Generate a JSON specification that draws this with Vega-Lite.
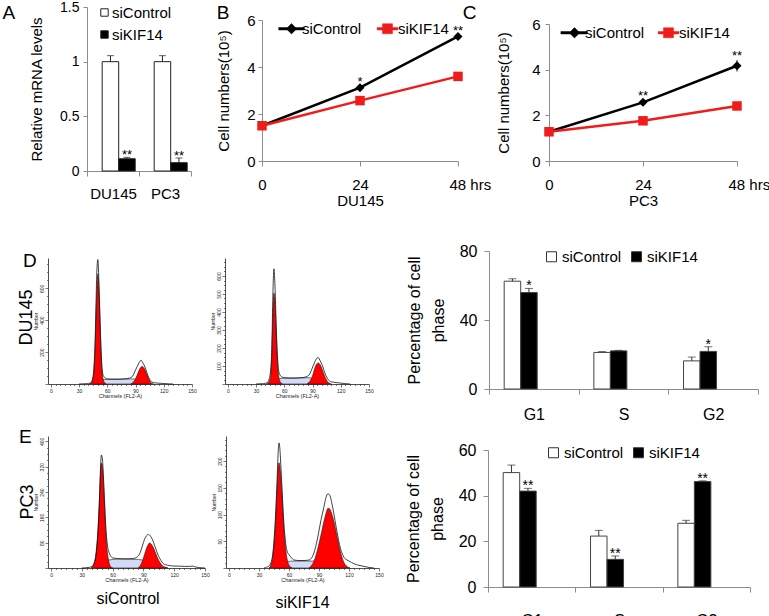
{
"$schema": "https://vega.github.io/schema/vega-lite/v6.json",
"background": "white",
"padding": {"left": 2, "top": 0, "right": 0, "bottom": 0},
"config": {
  "font": "Liberation Sans",
  "view": {"stroke": null},
  "axis": {"grid": false, "domainColor": "#8c8c8c", "tickColor": "#8c8c8c", "labelColor": "black", "titleColor": "black", "titleFontWeight": "normal", "labelFontSize": 15, "titleFontSize": 15, "tickSize": 5},
  "legend": {"labelFontSize": 15, "labelColor": "black"},
  "title": {"fontWeight": "normal", "color": "black", "fontSize": 19}
},
"datasets": {
  "hDL": [
    {"c":"s","x":46,"y":0},{"c":"s","x":50,"y":22},{"c":"s","x":55,"y":28},{"c":"s","x":65,"y":30},{"c":"s","x":75,"y":30},{"c":"s","x":85,"y":32},{"c":"s","x":92,"y":30},{"c":"s","x":98,"y":22},{"c":"s","x":103,"y":0},
    {"c":"g1","x":41,"y":0},{"c":"g1","x":43,"y":8},{"c":"g1","x":45,"y":40},{"c":"g1","x":46,"y":100},{"c":"g1","x":47,"y":220},{"c":"g1","x":48,"y":420},{"c":"g1","x":49,"y":600},{"c":"g1","x":50,"y":690},{"c":"g1","x":51,"y":610},{"c":"g1","x":52,"y":430},{"c":"g1","x":53,"y":240},{"c":"g1","x":54,"y":110},{"c":"g1","x":55,"y":45},{"c":"g1","x":57,"y":10},{"c":"g1","x":59,"y":0},
    {"c":"g2","x":85,"y":0},{"c":"g2","x":87,"y":8},{"c":"g2","x":89,"y":22},{"c":"g2","x":91,"y":45},{"c":"g2","x":93,"y":75},{"c":"g2","x":95,"y":100},{"c":"g2","x":97,"y":110},{"c":"g2","x":99,"y":100},{"c":"g2","x":101,"y":75},{"c":"g2","x":103,"y":45},{"c":"g2","x":105,"y":20},{"c":"g2","x":107,"y":5},{"c":"g2","x":109,"y":0},
    {"c":"t","x":30,"y":0},{"c":"t","x":38,"y":2},{"c":"t","x":42,"y":6},{"c":"t","x":44,"y":25},{"c":"t","x":46,"y":120},{"c":"t","x":47,"y":260},{"c":"t","x":48,"y":500},{"c":"t","x":49,"y":720},{"c":"t","x":50,"y":780},{"c":"t","x":51,"y":660},{"c":"t","x":52,"y":470},{"c":"t","x":53,"y":280},{"c":"t","x":54,"y":140},{"c":"t","x":55,"y":70},{"c":"t","x":56,"y":50},{"c":"t","x":58,"y":38},{"c":"t","x":60,"y":32},{"c":"t","x":65,"y":30},{"c":"t","x":70,"y":30},{"c":"t","x":75,"y":31},{"c":"t","x":80,"y":33},{"c":"t","x":84,"y":38},{"c":"t","x":87,"y":50},{"c":"t","x":89,"y":75},{"c":"t","x":91,"y":100},{"c":"t","x":93,"y":125},{"c":"t","x":95,"y":145},{"c":"t","x":96,"y":150},{"c":"t","x":97,"y":140},{"c":"t","x":99,"y":120},{"c":"t","x":101,"y":90},{"c":"t","x":103,"y":55},{"c":"t","x":105,"y":30},{"c":"t","x":107,"y":14},{"c":"t","x":110,"y":8},{"c":"t","x":115,"y":5},{"c":"t","x":120,"y":3},{"c":"t","x":125,"y":1},{"c":"t","x":130,"y":0}
  ],
  "hDR": [
    {"c":"s","x":45,"y":0},{"c":"s","x":50,"y":20},{"c":"s","x":55,"y":30},{"c":"s","x":65,"y":33},{"c":"s","x":75,"y":33},{"c":"s","x":85,"y":35},{"c":"s","x":92,"y":30},{"c":"s","x":98,"y":20},{"c":"s","x":104,"y":0},
    {"c":"g1","x":41,"y":0},{"c":"g1","x":43,"y":6},{"c":"g1","x":45,"y":30},{"c":"g1","x":46,"y":80},{"c":"g1","x":47,"y":190},{"c":"g1","x":48,"y":400},{"c":"g1","x":49,"y":505},{"c":"g1","x":50,"y":470},{"c":"g1","x":51,"y":340},{"c":"g1","x":52,"y":200},{"c":"g1","x":53,"y":100},{"c":"g1","x":54,"y":45},{"c":"g1","x":56,"y":10},{"c":"g1","x":58,"y":0},
    {"c":"g2","x":84,"y":0},{"c":"g2","x":86,"y":8},{"c":"g2","x":88,"y":22},{"c":"g2","x":90,"y":45},{"c":"g2","x":92,"y":80},{"c":"g2","x":94,"y":108},{"c":"g2","x":96,"y":117},{"c":"g2","x":98,"y":108},{"c":"g2","x":100,"y":85},{"c":"g2","x":102,"y":55},{"c":"g2","x":104,"y":30},{"c":"g2","x":106,"y":13},{"c":"g2","x":108,"y":4},{"c":"g2","x":110,"y":0},
    {"c":"t","x":30,"y":0},{"c":"t","x":38,"y":2},{"c":"t","x":42,"y":8},{"c":"t","x":44,"y":30},{"c":"t","x":46,"y":110},{"c":"t","x":47,"y":270},{"c":"t","x":48,"y":520},{"c":"t","x":49,"y":640},{"c":"t","x":50,"y":560},{"c":"t","x":51,"y":400},{"c":"t","x":52,"y":240},{"c":"t","x":53,"y":130},{"c":"t","x":54,"y":75},{"c":"t","x":55,"y":55},{"c":"t","x":56,"y":45},{"c":"t","x":58,"y":38},{"c":"t","x":60,"y":35},{"c":"t","x":65,"y":33},{"c":"t","x":70,"y":33},{"c":"t","x":75,"y":34},{"c":"t","x":80,"y":36},{"c":"t","x":84,"y":42},{"c":"t","x":87,"y":55},{"c":"t","x":89,"y":80},{"c":"t","x":91,"y":105},{"c":"t","x":93,"y":130},{"c":"t","x":95,"y":145},{"c":"t","x":96,"y":148},{"c":"t","x":97,"y":140},{"c":"t","x":99,"y":120},{"c":"t","x":101,"y":95},{"c":"t","x":103,"y":62},{"c":"t","x":105,"y":38},{"c":"t","x":107,"y":22},{"c":"t","x":110,"y":12},{"c":"t","x":115,"y":8},{"c":"t","x":120,"y":5},{"c":"t","x":125,"y":2},{"c":"t","x":130,"y":0}
  ],
  "hEL": [
    {"c":"s","x":44,"y":0},{"c":"s","x":50,"y":15},{"c":"s","x":56,"y":25},{"c":"s","x":65,"y":28},{"c":"s","x":75,"y":28},{"c":"s","x":85,"y":27},{"c":"s","x":92,"y":22},{"c":"s","x":98,"y":12},{"c":"s","x":104,"y":4},{"c":"s","x":108,"y":0},
    {"c":"g1","x":39,"y":0},{"c":"g1","x":41,"y":8},{"c":"g1","x":43,"y":30},{"c":"g1","x":45,"y":90},{"c":"g1","x":46,"y":140},{"c":"g1","x":47,"y":210},{"c":"g1","x":48,"y":290},{"c":"g1","x":49,"y":332},{"c":"g1","x":50,"y":320},{"c":"g1","x":51,"y":270},{"c":"g1","x":52,"y":200},{"c":"g1","x":53,"y":130},{"c":"g1","x":54,"y":80},{"c":"g1","x":56,"y":25},{"c":"g1","x":58,"y":5},{"c":"g1","x":60,"y":0},
    {"c":"g2","x":85,"y":0},{"c":"g2","x":87,"y":8},{"c":"g2","x":89,"y":22},{"c":"g2","x":91,"y":42},{"c":"g2","x":93,"y":62},{"c":"g2","x":95,"y":76},{"c":"g2","x":96,"y":79},{"c":"g2","x":98,"y":74},{"c":"g2","x":100,"y":62},{"c":"g2","x":102,"y":46},{"c":"g2","x":104,"y":30},{"c":"g2","x":106,"y":18},{"c":"g2","x":108,"y":9},{"c":"g2","x":111,"y":3},{"c":"g2","x":114,"y":0},
    {"c":"t","x":30,"y":0},{"c":"t","x":37,"y":2},{"c":"t","x":40,"y":5},{"c":"t","x":42,"y":15},{"c":"t","x":44,"y":45},{"c":"t","x":46,"y":130},{"c":"t","x":47,"y":200},{"c":"t","x":48,"y":300},{"c":"t","x":49,"y":357},{"c":"t","x":50,"y":345},{"c":"t","x":51,"y":290},{"c":"t","x":52,"y":220},{"c":"t","x":53,"y":150},{"c":"t","x":54,"y":100},{"c":"t","x":55,"y":70},{"c":"t","x":56,"y":55},{"c":"t","x":57,"y":45},{"c":"t","x":58,"y":38},{"c":"t","x":60,"y":32},{"c":"t","x":65,"y":30},{"c":"t","x":70,"y":29},{"c":"t","x":75,"y":29},{"c":"t","x":80,"y":30},{"c":"t","x":84,"y":35},{"c":"t","x":87,"y":50},{"c":"t","x":89,"y":70},{"c":"t","x":91,"y":90},{"c":"t","x":93,"y":102},{"c":"t","x":95,"y":106},{"c":"t","x":97,"y":100},{"c":"t","x":99,"y":88},{"c":"t","x":101,"y":70},{"c":"t","x":103,"y":52},{"c":"t","x":105,"y":36},{"c":"t","x":107,"y":24},{"c":"t","x":109,"y":15},{"c":"t","x":112,"y":10},{"c":"t","x":115,"y":8},{"c":"t","x":120,"y":6},{"c":"t","x":125,"y":6},{"c":"t","x":130,"y":5},{"c":"t","x":135,"y":5},{"c":"t","x":138,"y":6},{"c":"t","x":141,"y":3},{"c":"t","x":145,"y":1},{"c":"t","x":150,"y":0}
  ],
  "hER": [
    {"c":"s","x":46,"y":0},{"c":"s","x":52,"y":8},{"c":"s","x":58,"y":12},{"c":"s","x":65,"y":13},{"c":"s","x":75,"y":13},{"c":"s","x":85,"y":13},{"c":"s","x":95,"y":12},{"c":"s","x":102,"y":9},{"c":"s","x":108,"y":5},{"c":"s","x":113,"y":0},
    {"c":"g1","x":40,"y":0},{"c":"g1","x":42,"y":6},{"c":"g1","x":44,"y":25},{"c":"g1","x":46,"y":70},{"c":"g1","x":48,"y":145},{"c":"g1","x":49,"y":185},{"c":"g1","x":50,"y":197},{"c":"g1","x":51,"y":188},{"c":"g1","x":52,"y":165},{"c":"g1","x":53,"y":135},{"c":"g1","x":54,"y":100},{"c":"g1","x":55,"y":70},{"c":"g1","x":57,"y":30},{"c":"g1","x":59,"y":10},{"c":"g1","x":61,"y":3},{"c":"g1","x":63,"y":0},
    {"c":"g2","x":80,"y":0},{"c":"g2","x":83,"y":6},{"c":"g2","x":86,"y":18},{"c":"g2","x":89,"y":38},{"c":"g2","x":92,"y":62},{"c":"g2","x":95,"y":88},{"c":"g2","x":97,"y":102},{"c":"g2","x":99,"y":112},{"c":"g2","x":101,"y":110},{"c":"g2","x":103,"y":100},{"c":"g2","x":105,"y":86},{"c":"g2","x":107,"y":68},{"c":"g2","x":109,"y":50},{"c":"g2","x":111,"y":33},{"c":"g2","x":113,"y":20},{"c":"g2","x":115,"y":10},{"c":"g2","x":118,"y":3},{"c":"g2","x":121,"y":0},
    {"c":"t","x":35,"y":0},{"c":"t","x":40,"y":4},{"c":"t","x":42,"y":10},{"c":"t","x":44,"y":30},{"c":"t","x":46,"y":80},{"c":"t","x":48,"y":160},{"c":"t","x":49,"y":210},{"c":"t","x":50,"y":234},{"c":"t","x":51,"y":220},{"c":"t","x":52,"y":185},{"c":"t","x":53,"y":150},{"c":"t","x":54,"y":112},{"c":"t","x":55,"y":80},{"c":"t","x":56,"y":58},{"c":"t","x":57,"y":42},{"c":"t","x":58,"y":32},{"c":"t","x":60,"y":25},{"c":"t","x":62,"y":20},{"c":"t","x":65,"y":15},{"c":"t","x":70,"y":14},{"c":"t","x":75,"y":14},{"c":"t","x":80,"y":15},{"c":"t","x":83,"y":20},{"c":"t","x":86,"y":35},{"c":"t","x":89,"y":60},{"c":"t","x":92,"y":90},{"c":"t","x":95,"y":115},{"c":"t","x":97,"y":132},{"c":"t","x":99,"y":139},{"c":"t","x":101,"y":135},{"c":"t","x":103,"y":120},{"c":"t","x":105,"y":100},{"c":"t","x":107,"y":78},{"c":"t","x":109,"y":58},{"c":"t","x":111,"y":40},{"c":"t","x":113,"y":28},{"c":"t","x":115,"y":20},{"c":"t","x":118,"y":15},{"c":"t","x":120,"y":13},{"c":"t","x":125,"y":8},{"c":"t","x":130,"y":5},{"c":"t","x":135,"y":3},{"c":"t","x":140,"y":1},{"c":"t","x":145,"y":0}
  ]
},
"columns": 1,
"align": "none",
"spacing": 35,
"resolve": {"scale": {"color": "independent", "fill": "independent", "shape": "independent"}, "legend": {"color": "independent", "fill": "independent", "shape": "independent"}},
"concat": [
  {
    "spacing": 24,
    "resolve": {"scale": {"color": "independent", "fill": "independent", "shape": "independent"}, "legend": {"color": "independent", "fill": "independent", "shape": "independent"}},
    "hconcat": [
      {
        "width": 143, "height": 164,
        "title": {"text": "A", "anchor": "start", "frame": "bounds", "offset": -23, "dx": -27},
        "data": {"values": [
          {"cat":"DU145","series":"siControl","v":1.0,"hi":1.055,"sig":""},
          {"cat":"DU145","series":"siKIF14","v":0.112,"hi":0.125,"sig":"**"},
          {"cat":"PC3","series":"siControl","v":1.0,"hi":1.055,"sig":""},
          {"cat":"PC3","series":"siKIF14","v":0.076,"hi":0.119,"sig":"**"}
        ]},
        "encoding": {
          "x": {"field": "cat", "type": "nominal", "sort": ["DU145","PC3"], "scale": {"paddingInner": 0, "paddingOuter": 0, "range": [39,143]}, "axis": {"title": null, "labelAngle": 0, "tickBand": "extent", "labelFontSize": 15, "labelPadding": 10}},
          "xOffset": {"field": "series", "type": "nominal", "sort": ["siControl","siKIF14"], "scale": {"paddingInner": 0, "paddingOuter": 0.575, "align": 0.8}}
        },
        "layer": [
          {"mark": {"type": "bar", "stroke": "#222", "strokeWidth": 1},
           "encoding": {
             "y": {"field": "v", "type": "quantitative", "scale": {"domain": [0,1.5], "nice": false}, "axis": {"offset": -39, "values": [0,0.5,1,1.5], "format": "~g", "title": "Relative mRNA levels", "labelFontSize": 14, "titleFontSize": 15, "titlePadding": 15, "tickSize": 4, "labelPadding": 4}},
             "fill": {"field": "series", "type": "nominal", "scale": {"domain": ["siControl","siKIF14"], "range": ["white","black"]},
               "legend": {"orient": "none", "legendX": 49, "legendY": -2, "direction": "vertical", "title": null, "symbolType": "square", "symbolSize": 55, "symbolStrokeColor": "#222", "symbolStrokeWidth": 1, "labelFontSize": 15, "labelOffset": 0, "rowPadding": 6}}
           }},
          {"mark": {"type": "rule", "color": "#222"}, "encoding": {"y": {"field": "v", "type": "quantitative", "scale": {"domain": [0,1.5], "nice": false}}, "y2": {"field": "hi"}}},
          {"mark": {"type": "tick", "color": "#222", "thickness": 1, "size": 7}, "encoding": {"y": {"field": "hi", "type": "quantitative", "scale": {"domain": [0,1.5], "nice": false}}}},
          {"mark": {"type": "text", "baseline": "alphabetic", "dy": 2, "fontSize": 13}, "encoding": {"y": {"field": "hi", "type": "quantitative", "scale": {"domain": [0,1.5], "nice": false}}, "text": {"field": "sig"}}}
        ]
      },
      {
        "spacing": -29,
        "resolve": {"scale": {"color": "independent", "fill": "independent", "shape": "independent"}, "legend": {"color": "independent", "fill": "independent", "shape": "independent"}},
        "hconcat": [
          {
            "width": 196, "height": 154,
            "title": {"text": "B", "anchor": "start", "frame": "bounds", "offset": -16},
            "data": {"values": [
              {"t":0,"series":"siControl","v":1.5,"lo":1.46,"hi":1.54,"sig":""},
              {"t":24,"series":"siControl","v":3.12,"lo":3.05,"hi":3.2,"sig":"*"},
              {"t":48,"series":"siControl","v":5.3,"lo":5.22,"hi":5.38,"sig":"**"},
              {"t":0,"series":"siKIF14","v":1.5,"lo":1.46,"hi":1.54,"sig":""},
              {"t":24,"series":"siKIF14","v":2.57,"lo":2.52,"hi":2.62,"sig":""},
              {"t":48,"series":"siKIF14","v":3.6,"lo":3.55,"hi":3.65,"sig":""}
            ]},
            "encoding": {"x": {"field": "t", "type": "quantitative", "scale": {"domain": [0,48], "nice": false},
              "axis": {"values": [0,24,48], "labelExpr": "datum.value === 48 ? '48 hrs' : datum.label", "labelAlign": {"condition": {"test": "datum.value === 48", "value": "left"}, "value": "center"}, "labelOffset": {"condition": {"test": "datum.value === 48", "value": -9}, "value": 0}, "labelFlush": false, "labelOverlap": false, "labelFontSize": 15, "labelPadding": 11, "tickSize": 5, "title": "DU145", "titleFontSize": 15, "titlePadding": 1}}},
            "layer": [
              {"mark": {"type": "line", "strokeWidth": 2.5}, "encoding": {
                "y": {"field": "v", "type": "quantitative", "scale": {"domain": [0,6], "nice": false, "range": [154,13]}, "axis": {"values": [0,2,4,6], "title": "Cell numbers(10⁵)", "titleFontSize": 15, "titlePadding": 15, "labelFontSize": 15, "tickSize": 4, "labelPadding": 3}},
                "color": {"field": "series", "type": "nominal", "scale": {"domain": ["siControl","siKIF14"], "range": ["black","#f01c1c"]},
                  "legend": {"orient": "none", "legendX": 22, "legendY": 14, "direction": "horizontal", "title": null, "labelFontSize": 15, "symbolSize": 64, "labelOffset": 3, "columnPadding": 14,
                    "encode": {"symbols": {"update": {
                      "shape": {"signal": "datum.value === 'siControl' ? 'M-3.2,-0.3H3.2V0.3H-3.2ZM0,-1.3L1.3,0L0,1.3L-1.3,0Z' : 'M-2.6,-0.3H2.6V0.3H-2.6ZM-1.25,-1.25H1.25V1.25H-1.25Z'"},
                      "fill": {"signal": "datum.value === 'siControl' ? 'black' : '#f01c1c'"},
                      "stroke": {"signal": "datum.value === 'siControl' ? 'black' : '#f01c1c'"},
                      "strokeWidth": {"value": 0.5}, "opacity": {"value": 1}}}}}}
              }},
              {"mark": {"type": "rule", "color": "#222"}, "encoding": {"y": {"field": "lo", "type": "quantitative", "scale": {"domain": [0,6], "nice": false, "range": [154,13]}}, "y2": {"field": "hi"}}},
              {"transform": [{"filter": "datum.series === 'siControl'"}], "mark": {"type": "point", "filled": true, "opacity": 1, "size": 80, "shape": "diamond", "color": "black"}, "encoding": {
                "y": {"field": "v", "type": "quantitative", "scale": {"domain": [0,6], "nice": false, "range": [154,13]}}}},
              {"transform": [{"filter": "datum.series === 'siKIF14'"}], "mark": {"type": "point", "filled": true, "opacity": 1, "size": 90, "shape": "square", "color": "#f01c1c"}, "encoding": {
                "y": {"field": "v", "type": "quantitative", "scale": {"domain": [0,6], "nice": false, "range": [154,13]}}}},
              {"mark": {"type": "text", "baseline": "alphabetic", "fontSize": 13}, "encoding": {"y": {"field": "hi", "type": "quantitative", "scale": {"domain": [0,6], "nice": false, "range": [154,13]}}, "text": {"field": "sig"}}}
            ]
          },
          {
            "width": 188, "height": 154,
            "title": {"text": "C", "anchor": "start", "frame": "bounds", "offset": -16, "dx": -34},
            "data": {"values": [
              {"t":0,"series":"siControl","v":1.28,"lo":1.23,"hi":1.33,"sig":""},
              {"t":24,"series":"siControl","v":2.57,"lo":2.49,"hi":2.65,"sig":"**"},
              {"t":48,"series":"siControl","v":4.17,"lo":3.92,"hi":4.42,"sig":"**"},
              {"t":0,"series":"siKIF14","v":1.28,"lo":1.23,"hi":1.33,"sig":""},
              {"t":24,"series":"siKIF14","v":1.76,"lo":1.7,"hi":1.82,"sig":""},
              {"t":48,"series":"siKIF14","v":2.41,"lo":2.26,"hi":2.56,"sig":""}
            ]},
            "encoding": {"x": {"field": "t", "type": "quantitative", "scale": {"domain": [0,48], "nice": false},
              "axis": {"values": [0,24,48], "labelExpr": "datum.value === 48 ? '48 hrs' : datum.label", "labelAlign": {"condition": {"test": "datum.value === 48", "value": "left"}, "value": "center"}, "labelOffset": {"condition": {"test": "datum.value === 48", "value": -9}, "value": 0}, "labelFlush": false, "labelOverlap": false, "labelFontSize": 15, "labelPadding": 11, "tickSize": 5, "title": "PC3", "titleFontSize": 15, "titlePadding": 1}}},
            "layer": [
              {"mark": {"type": "line", "strokeWidth": 2.5}, "encoding": {
                "y": {"field": "v", "type": "quantitative", "scale": {"domain": [0,6], "nice": false, "range": [154,17]}, "axis": {"values": [0,2,4,6], "title": "Cell numbers(10⁵)", "titleFontSize": 15, "titlePadding": 20, "labelFontSize": 15, "tickSize": 4, "labelPadding": 5}},
                "color": {"field": "series", "type": "nominal", "scale": {"domain": ["siControl","siKIF14"], "range": ["black","#f01c1c"]},
                  "legend": {"orient": "none", "legendX": 18, "legendY": 18, "direction": "horizontal", "title": null, "labelFontSize": 15, "symbolSize": 64, "labelOffset": 3, "columnPadding": 12,
                    "encode": {"symbols": {"update": {
                      "shape": {"signal": "datum.value === 'siControl' ? 'M-3.4,-0.3H3.2V0.3H-3.4ZM0,-1.3L1.3,0L0,1.3L-1.3,0Z' : 'M-2.6,-0.3H2.6V0.3H-2.6ZM-1.25,-1.25H1.25V1.25H-1.25Z'"},
                      "fill": {"signal": "datum.value === 'siControl' ? 'black' : '#f01c1c'"},
                      "stroke": {"signal": "datum.value === 'siControl' ? 'black' : '#f01c1c'"},
                      "strokeWidth": {"value": 0.5}, "opacity": {"value": 1}}}}}}
              }},
              {"mark": {"type": "rule", "color": "#222"}, "encoding": {"y": {"field": "lo", "type": "quantitative", "scale": {"domain": [0,6], "nice": false, "range": [154,17]}}, "y2": {"field": "hi"}}},
              {"transform": [{"filter": "datum.series === 'siControl'"}], "mark": {"type": "point", "filled": true, "opacity": 1, "size": 80, "shape": "diamond", "color": "black"}, "encoding": {
                "y": {"field": "v", "type": "quantitative", "scale": {"domain": [0,6], "nice": false, "range": [154,17]}}}},
              {"transform": [{"filter": "datum.series === 'siKIF14'"}], "mark": {"type": "point", "filled": true, "opacity": 1, "size": 90, "shape": "square", "color": "#f01c1c"}, "encoding": {
                "y": {"field": "v", "type": "quantitative", "scale": {"domain": [0,6], "nice": false, "range": [154,17]}}}},
              {"mark": {"type": "text", "baseline": "alphabetic", "fontSize": 13}, "encoding": {"y": {"field": "hi", "type": "quantitative", "scale": {"domain": [0,6], "nice": false, "range": [154,17]}}, "text": {"field": "sig"}}}
            ]
          }
        ]
      }
    ]
  },
  {
    "columns": 1,
    "align": "none",
    "spacing": 6,
    "resolve": {"scale": {"color": "independent", "fill": "independent", "shape": "independent"}, "legend": {"color": "independent", "fill": "independent", "shape": "independent"}},
    "concat": [
      {
        "title": {"text": "D", "anchor": "start", "frame": "bounds", "offset": -28, "dx": 5},
        "spacing": 32,
        "resolve": {"scale": {"color": "independent", "fill": "independent", "shape": "independent"}, "legend": {"color": "independent", "fill": "independent", "shape": "independent"}},
        "hconcat": [
          {
            "spacing": 12,
            "hconcat": [
              {
                "width": 144, "height": 133,
                "title": {"text": "DU145", "orient": "left", "offset": -3, "fontSize": 18},
                "data": {"name": "hDL"},
                "encoding": {"x": {"field": "x", "type": "quantitative", "scale": {"domain": [-3,150], "nice": false}, "axis": {"values": [0,5,10,15,20,25,30,35,40,45,50,55,60,65,70,75,80,85,90,95,100,105,110,115,120,125,130,135,140,145,150], "labelExpr": "datum.value % 30 === 0 ? datum.label : ''", "tickSize": {"condition": {"test": "datum.value % 30 === 0", "value": 3}, "value": 1.5}, "labelFontSize": 5, "labelPadding": 1, "labelFlush": false, "labelOverlap": false, "title": "Channels (FL2-A)", "titleFontSize": 5.5, "titlePadding": 0, "domainColor": "#222", "tickColor": "#222", "labelColor": "#222", "titleColor": "#222", "domainWidth": 0.8, "tickWidth": 0.6}},
                  "y": {"field": "y", "type": "quantitative", "scale": {"domain": [0,790], "nice": false, "range": [133,7]}, "axis": {"values": [0,50,100,150,200,250,300,350,400,450,500,550,600,650,700,750], "labelExpr": "datum.value > 0 && datum.value % 200 === 0 ? datum.label : ''", "tickSize": {"condition": {"test": "datum.value % 200 === 0", "value": 3}, "value": 1.5}, "labelAngle": -90, "labelFontSize": 5, "labelPadding": 1, "labelFlush": false, "labelOverlap": false, "title": "Number", "titleFontSize": 5, "titlePadding": 1, "domainColor": "#222", "tickColor": "#222", "labelColor": "#222", "titleColor": "#222", "domainWidth": 0.8, "tickWidth": 0.6}}},
                "layer": [
                  {"transform": [{"filter": "datum.c === 's'"}], "mark": {"type": "area", "fill": "#d3daf5", "stroke": "#1a1a1a", "strokeWidth": 0.6, "interpolate": "monotone"}},
                  {"transform": [{"filter": "datum.c === 'g1'"}], "mark": {"type": "area", "fill": "#ff0000", "stroke": "#1a1a1a", "strokeWidth": 0.6, "interpolate": "monotone"}},
                  {"transform": [{"filter": "datum.c === 'g2'"}], "mark": {"type": "area", "fill": "#ff0000", "stroke": "#1a1a1a", "strokeWidth": 0.6, "interpolate": "monotone"}},
                  {"transform": [{"filter": "datum.c === 't'"}], "mark": {"type": "line", "color": "#111", "strokeWidth": 0.8, "interpolate": "monotone"}}
                ]
              },
              {
                "width": 144, "height": 133,
                "data": {"name": "hDR"},
                "encoding": {"x": {"field": "x", "type": "quantitative", "scale": {"domain": [-3,150], "nice": false}, "axis": {"values": [0,5,10,15,20,25,30,35,40,45,50,55,60,65,70,75,80,85,90,95,100,105,110,115,120,125,130,135,140,145,150], "labelExpr": "datum.value % 30 === 0 ? datum.label : ''", "tickSize": {"condition": {"test": "datum.value % 30 === 0", "value": 3}, "value": 1.5}, "labelFontSize": 5, "labelPadding": 1, "labelFlush": false, "labelOverlap": false, "title": "Channels (FL2-A)", "titleFontSize": 5.5, "titlePadding": 0, "domainColor": "#222", "tickColor": "#222", "labelColor": "#222", "titleColor": "#222", "domainWidth": 0.8, "tickWidth": 0.6}},
                  "y": {"field": "y", "type": "quantitative", "scale": {"domain": [0,700], "nice": false, "range": [133,7]}, "axis": {"values": [0,25,50,75,100,125,150,175,200,225,250,275,300,325,350,375,400,425,450,475,500,525,550,575,600,625,650,675], "labelExpr": "datum.value > 0 && datum.value % 100 === 0 ? datum.label : ''", "tickSize": {"condition": {"test": "datum.value % 100 === 0", "value": 3}, "value": 1.5}, "labelAngle": -90, "labelFontSize": 5, "labelPadding": 1, "labelFlush": false, "labelOverlap": false, "title": "Number", "titleFontSize": 5, "titlePadding": 1, "domainColor": "#222", "tickColor": "#222", "labelColor": "#222", "titleColor": "#222", "domainWidth": 0.8, "tickWidth": 0.6}}},
                "layer": [
                  {"transform": [{"filter": "datum.c === 's'"}], "mark": {"type": "area", "fill": "#d3daf5", "stroke": "#1a1a1a", "strokeWidth": 0.6, "interpolate": "monotone"}},
                  {"transform": [{"filter": "datum.c === 'g1'"}], "mark": {"type": "area", "fill": "#ff0000", "stroke": "#1a1a1a", "strokeWidth": 0.6, "interpolate": "monotone"}},
                  {"transform": [{"filter": "datum.c === 'g2'"}], "mark": {"type": "area", "fill": "#ff0000", "stroke": "#1a1a1a", "strokeWidth": 0.6, "interpolate": "monotone"}},
                  {"transform": [{"filter": "datum.c === 't'"}], "mark": {"type": "line", "color": "#111", "strokeWidth": 0.8, "interpolate": "monotone"}}
                ]
              }
            ]
          },
          {
            "width": 269, "height": 138,
            "data": {"values": [
              {"phase":"G1","series":"siControl","v":62.5,"hi":63.9,"sig":""},
              {"phase":"G1","series":"siKIF14","v":55.9,"hi":58.3,"sig":"*"},
              {"phase":"S","series":"siControl","v":21.2,"hi":21.7,"sig":""},
              {"phase":"S","series":"siKIF14","v":22.1,"hi":22.4,"sig":""},
              {"phase":"G2","series":"siControl","v":16.3,"hi":18.5,"sig":""},
              {"phase":"G2","series":"siKIF14","v":21.8,"hi":24.5,"sig":"*"}
            ]},
            "encoding": {
              "x": {"field": "phase", "type": "nominal", "sort": ["G1","S","G2"], "scale": {"paddingInner": 0, "paddingOuter": 0}, "axis": {"title": null, "labelAngle": 0, "tickBand": "extent", "labelFontSize": 16, "labelPadding": 12}},
              "xOffset": {"field": "series", "type": "nominal", "sort": ["siControl","siKIF14"], "scale": {"paddingInner": 0, "paddingOuter": 0.745}}
            },
            "layer": [
              {"mark": {"type": "bar", "stroke": "#444", "strokeWidth": 1},
               "encoding": {
                 "y": {"field": "v", "type": "quantitative", "scale": {"domain": [0,80], "nice": false}, "axis": {"values": [0,20,40,60,80], "title": ["Percentage of cell","phase"], "titleFontSize": 16, "titleLineHeight": 24, "titlePadding": 13, "labelFontSize": 16, "tickSize": 5, "labelPadding": 7}},
                 "fill": {"field": "series", "type": "nominal", "scale": {"domain": ["siControl","siKIF14"], "range": ["white","black"]},
                   "legend": {"orient": "none", "legendX": 55, "legendY": -2, "direction": "horizontal", "title": null, "symbolType": "square", "symbolSize": 100, "symbolStrokeColor": "#333", "symbolStrokeWidth": 1, "labelFontSize": 15, "labelOffset": 3, "columnPadding": 7}}
               }},
              {"mark": {"type": "rule", "color": "#333"}, "encoding": {"y": {"field": "v", "type": "quantitative", "scale": {"domain": [0,80], "nice": false}}, "y2": {"field": "hi"}}},
              {"mark": {"type": "tick", "color": "#333", "thickness": 1, "size": 8}, "encoding": {"y": {"field": "hi", "type": "quantitative", "scale": {"domain": [0,80], "nice": false}}}},
              {"mark": {"type": "text", "baseline": "alphabetic", "dy": 2, "fontSize": 14}, "encoding": {"y": {"field": "hi", "type": "quantitative", "scale": {"domain": [0,80], "nice": false}}, "text": {"field": "sig"}}}
            ]
          }
        ]
      },
      {
        "title": {"text": "E", "anchor": "start", "frame": "bounds", "offset": -11, "dx": 0},
        "spacing": 21,
        "resolve": {"scale": {"color": "independent", "fill": "independent", "shape": "independent"}, "legend": {"color": "independent", "fill": "independent", "shape": "independent"}},
        "hconcat": [
          {
            "spacing": 1,
            "hconcat": [
              {
                "title": {"text": "siControl", "orient": "bottom", "anchor": "middle", "frame": "bounds", "fontSize": 16, "offset": 8, "dx": 14},
                "vconcat": [
                  {
                    "width": 157, "height": 132,
                    "title": {"text": "PC3", "orient": "left", "offset": -4, "fontSize": 18},
                    "data": {"name": "hEL"},
                    "encoding": {"x": {"field": "x", "type": "quantitative", "scale": {"domain": [-3,150], "nice": false}, "axis": {"values": [0,5,10,15,20,25,30,35,40,45,50,55,60,65,70,75,80,85,90,95,100,105,110,115,120,125,130,135,140,145,150], "labelExpr": "datum.value % 30 === 0 ? datum.label : ''", "tickSize": {"condition": {"test": "datum.value % 30 === 0", "value": 3}, "value": 1.5}, "labelFontSize": 5, "labelPadding": 1, "labelFlush": false, "labelOverlap": false, "title": "Channels (FL2-A)", "titleFontSize": 5.5, "titlePadding": 0, "domainColor": "#222", "tickColor": "#222", "labelColor": "#222", "titleColor": "#222", "domainWidth": 0.8, "tickWidth": 0.6}},
                      "y": {"field": "y", "type": "quantitative", "scale": {"domain": [0,417], "nice": false}, "axis": {"values": [0,20,40,60,80,100,120,140,160,180,200,220,240,260,280,300,320,340,360,380,400], "labelExpr": "datum.value > 0 && datum.value % 80 === 0 ? datum.label : ''", "tickSize": {"condition": {"test": "datum.value % 80 === 0", "value": 3}, "value": 1.5}, "labelAngle": -90, "labelFontSize": 5, "labelPadding": 1, "labelFlush": false, "labelOverlap": false, "title": "Number", "titleFontSize": 5, "titlePadding": 1, "domainColor": "#222", "tickColor": "#222", "labelColor": "#222", "titleColor": "#222", "domainWidth": 0.8, "tickWidth": 0.6}}},
                    "layer": [
                      {"transform": [{"filter": "datum.c === 's'"}], "mark": {"type": "area", "fill": "#d3daf5", "stroke": "#1a1a1a", "strokeWidth": 0.6, "interpolate": "monotone"}},
                      {"transform": [{"filter": "datum.c === 'g1'"}], "mark": {"type": "area", "fill": "#ff0000", "stroke": "#1a1a1a", "strokeWidth": 0.6, "interpolate": "monotone"}},
                      {"transform": [{"filter": "datum.c === 'g2'"}], "mark": {"type": "area", "fill": "#ff0000", "stroke": "#1a1a1a", "strokeWidth": 0.6, "interpolate": "monotone"}},
                      {"transform": [{"filter": "datum.c === 't'"}], "mark": {"type": "line", "color": "#111", "strokeWidth": 0.8, "interpolate": "monotone"}}
                    ]
                  }
                ]
              },
              {
                "width": 153, "height": 132,
                "title": {"text": "siKIF14", "orient": "bottom", "frame": "group", "fontSize": 16, "offset": 12},
                "data": {"name": "hER"},
                "encoding": {"x": {"field": "x", "type": "quantitative", "scale": {"domain": [-3,150], "nice": false}, "axis": {"values": [0,5,10,15,20,25,30,35,40,45,50,55,60,65,70,75,80,85,90,95,100,105,110,115,120,125,130,135,140,145,150], "labelExpr": "datum.value % 30 === 0 ? datum.label : ''", "tickSize": {"condition": {"test": "datum.value % 30 === 0", "value": 3}, "value": 1.5}, "labelFontSize": 5, "labelPadding": 1, "labelFlush": false, "labelOverlap": false, "title": "Channels (FL2-A)", "titleFontSize": 5.5, "titlePadding": 0, "domainColor": "#222", "tickColor": "#222", "labelColor": "#222", "titleColor": "#222", "domainWidth": 0.8, "tickWidth": 0.6}},
                  "y": {"field": "y", "type": "quantitative", "scale": {"domain": [0,247], "nice": false}, "axis": {"values": [0,10,20,30,40,50,60,70,80,90,100,110,120,130,140,150,160,170,180,190,200,210,220,230,240], "labelExpr": "datum.value > 0 && datum.value % 50 === 0 ? datum.label : ''", "tickSize": {"condition": {"test": "datum.value % 50 === 0", "value": 3}, "value": 1.5}, "labelAngle": -90, "labelFontSize": 5, "labelPadding": 1, "labelFlush": false, "labelOverlap": false, "title": "Number", "titleFontSize": 5, "titlePadding": 1, "domainColor": "#222", "tickColor": "#222", "labelColor": "#222", "titleColor": "#222", "domainWidth": 0.8, "tickWidth": 0.6}}},
                "layer": [
                  {"transform": [{"filter": "datum.c === 's'"}], "mark": {"type": "area", "fill": "#d3daf5", "stroke": "#1a1a1a", "strokeWidth": 0.6, "interpolate": "monotone"}},
                  {"transform": [{"filter": "datum.c === 'g1'"}], "mark": {"type": "area", "fill": "#ff0000", "stroke": "#1a1a1a", "strokeWidth": 0.6, "interpolate": "monotone"}},
                  {"transform": [{"filter": "datum.c === 'g2'"}], "mark": {"type": "area", "fill": "#ff0000", "stroke": "#1a1a1a", "strokeWidth": 0.6, "interpolate": "monotone"}},
                  {"transform": [{"filter": "datum.c === 't'"}], "mark": {"type": "line", "color": "#111", "strokeWidth": 0.8, "interpolate": "monotone"}}
                ]
              }
            ]
          },
          {
            "width": 262, "height": 151,
            "data": {"values": [
              {"phase":"G1","series":"siControl","v":50.1,"hi":53.4,"sig":""},
              {"phase":"G1","series":"siKIF14","v":42.0,"hi":43.2,"sig":"**"},
              {"phase":"S","series":"siControl","v":22.3,"hi":24.8,"sig":""},
              {"phase":"S","series":"siKIF14","v":12.1,"hi":13.6,"sig":"**"},
              {"phase":"G2","series":"siControl","v":27.9,"hi":29.2,"sig":""},
              {"phase":"G2","series":"siKIF14","v":46.2,"hi":46.5,"sig":"**"}
            ]},
            "encoding": {
              "x": {"field": "phase", "type": "nominal", "sort": ["G1","S","G2"], "scale": {"paddingInner": 0, "paddingOuter": 0}, "axis": {"title": null, "labelAngle": 0, "tickBand": "extent", "labelFontSize": 16, "labelPadding": 20}},
              "xOffset": {"field": "series", "type": "nominal", "sort": ["siControl","siKIF14"], "scale": {"paddingInner": 0, "paddingOuter": 0.78}}
            },
            "layer": [
              {"mark": {"type": "bar", "stroke": "#444", "strokeWidth": 1},
               "encoding": {
                 "y": {"field": "v", "type": "quantitative", "scale": {"domain": [0,60], "nice": false, "range": [151,14]}, "axis": {"values": [0,20,40,60], "title": ["Percentage of cell","phase"], "titleFontSize": 16, "titleLineHeight": 24, "titlePadding": 13, "labelFontSize": 16, "tickSize": 5, "labelPadding": 7}},
                 "fill": {"field": "series", "type": "nominal", "scale": {"domain": ["siControl","siKIF14"], "range": ["white","black"]},
                   "legend": {"orient": "none", "legendX": 58, "legendY": 9, "direction": "horizontal", "title": null, "symbolType": "square", "symbolSize": 100, "symbolStrokeColor": "#333", "symbolStrokeWidth": 1, "labelFontSize": 15, "labelOffset": 3, "columnPadding": 7}}
               }},
              {"mark": {"type": "rule", "color": "#333"}, "encoding": {"y": {"field": "v", "type": "quantitative", "scale": {"domain": [0,60], "nice": false, "range": [151,14]}}, "y2": {"field": "hi"}}},
              {"mark": {"type": "tick", "color": "#333", "thickness": 1, "size": 8}, "encoding": {"y": {"field": "hi", "type": "quantitative", "scale": {"domain": [0,60], "nice": false, "range": [151,14]}}}},
              {"mark": {"type": "text", "baseline": "alphabetic", "dy": 2, "fontSize": 14}, "encoding": {"y": {"field": "hi", "type": "quantitative", "scale": {"domain": [0,60], "nice": false, "range": [151,14]}}, "text": {"field": "sig"}}}
            ]
          }
        ]
      }
    ]
  }
]
}
